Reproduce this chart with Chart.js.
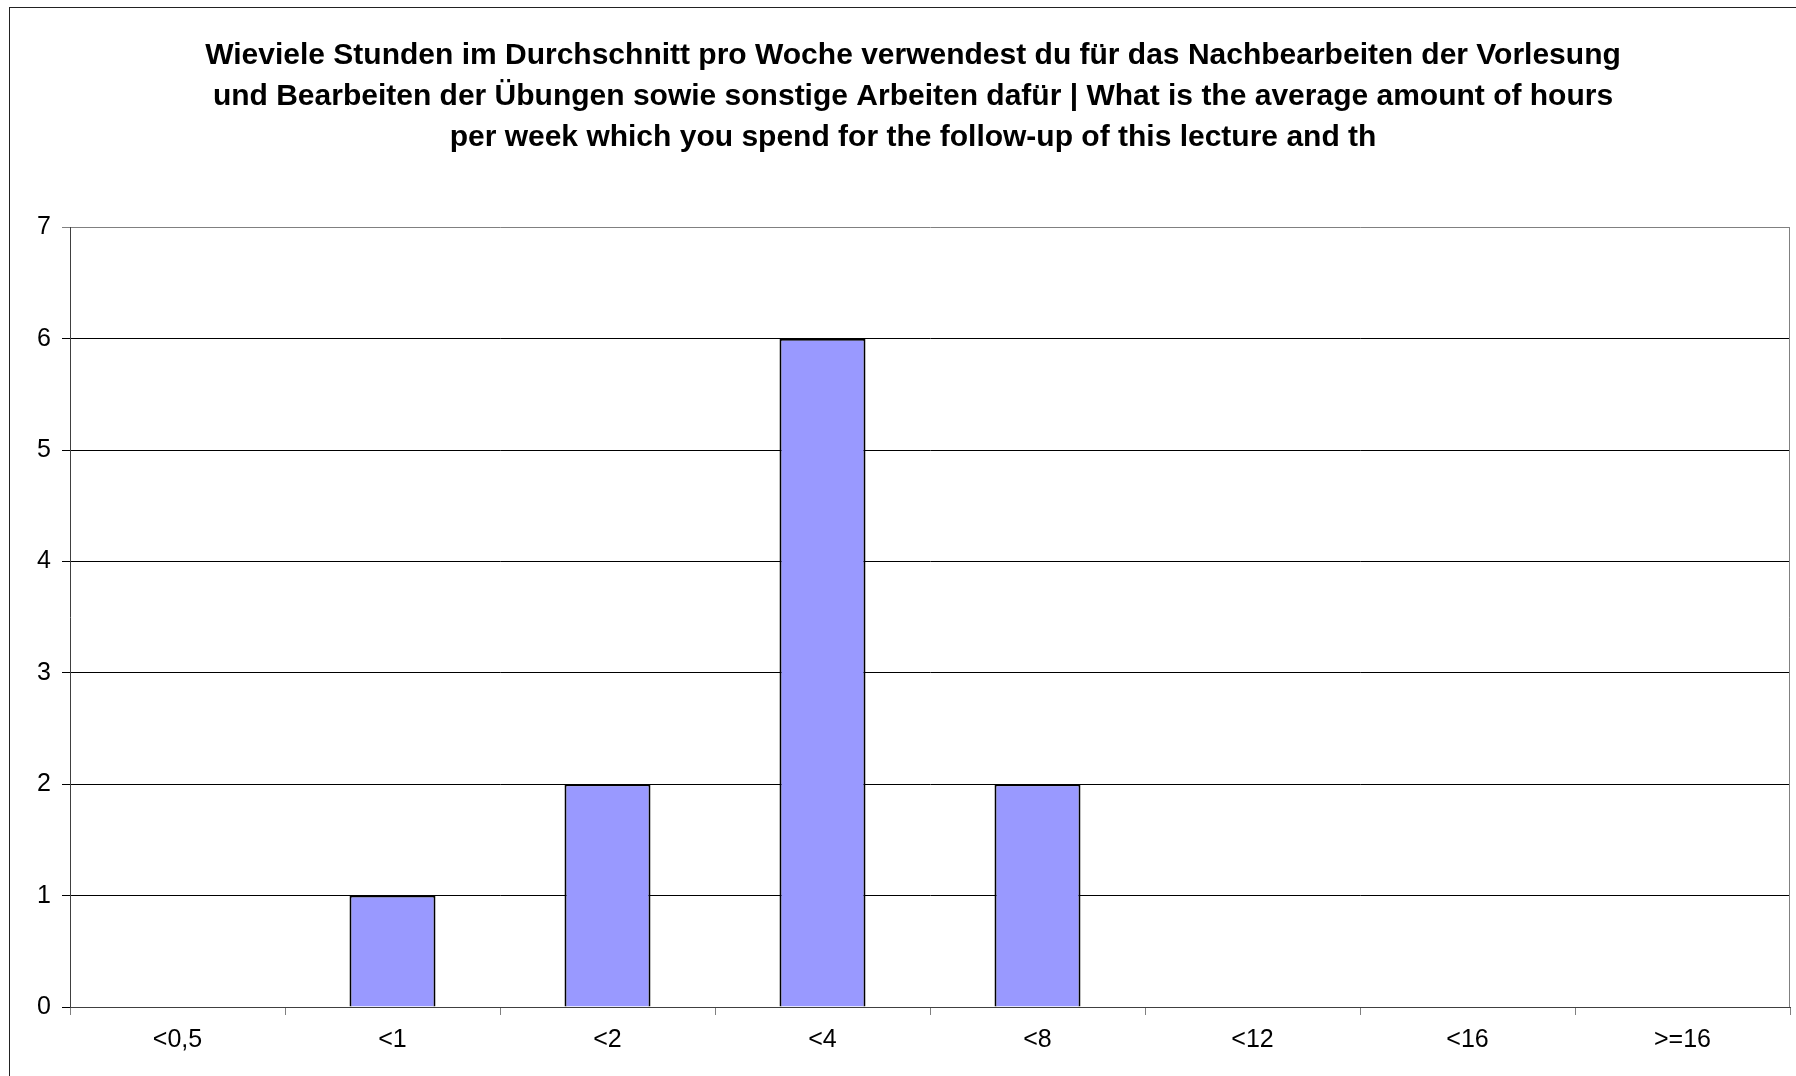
<!DOCTYPE html>
<html>
<head>
<meta charset="utf-8">
<script src="https://cdn.jsdelivr.net/npm/chart.js@4/dist/chart.umd.min.js"></script>
<style>
  html, body { margin: 0; padding: 0; background: #fff; }
  #wrap { width: 1796px; height: 1076px; }
</style>
</head>
<body>
<div id="wrap"><canvas id="chart" width="1796" height="1076"></canvas></div>
<script>
// data
const titleLines = [
    'Wieviele Stunden im Durchschnitt pro Woche verwendest du für das Nachbearbeiten der Vorlesung',
    'und Bearbeiten der Übungen sowie sonstige Arbeiten dafür | What is the average amount of hours',
    'per week which you spend for the follow-up of this lecture and th'
];
const categories = ['<0,5', '<1', '<2', '<4', '<8', '<12', '<16', '>=16'];
const answers = [0, 1, 2, 6, 2, 0, 0, 0];
const yMin = 0;
const yMax = 7;

const FONT = '"Liberation Sans", Arial, sans-serif';

// white page, outer frame and grey plot border on the right
const frame = {
    id: 'frame',
    beforeDraw(chart) {
        const c = chart.ctx;
        c.save();
        c.fillStyle = '#fff';
        c.fillRect(0, 0, chart.width, chart.height);
        c.strokeStyle = '#222';
        c.lineWidth = 1;
        c.strokeRect(9.5, 7.5, chart.width + 20, chart.height + 20);
        c.restore();
    },
    afterDraw(chart) {
        const a = chart.chartArea;
        const c = chart.ctx;
        c.save();
        c.strokeStyle = '#808080';
        c.lineWidth = 1;
        c.beginPath();
        c.moveTo(Math.round(a.right) - 0.5, a.top);
        c.lineTo(Math.round(a.right) - 0.5, a.bottom);
        c.stroke();
        c.restore();
    }
};

new Chart(document.getElementById('chart'), {
    type: 'bar',
    data: {
        labels: categories,
        datasets: [{
            data: answers,
            backgroundColor: '#9999FF',
            borderColor: '#000',
            borderWidth: 2,
            barPercentage: 0.4,
            categoryPercentage: 1
        }]
    },
    options: {
        responsive: false,
        animation: false,
        // left padding pushes the title centre a bit to the right, like the original
        layout: { padding: { left: 36, right: 6, top: 0, bottom: 0 } },
        plugins: {
            legend: { display: false },
            tooltip: { enabled: false },
            title: {
                display: true,
                text: titleLines,
                color: '#000',
                font: { family: FONT, size: 30, weight: 'bold', lineHeight: 1.37 },
                padding: { top: 35, bottom: 69 }
            }
        },
        scales: {
            x: {
                grid: {
                    display: true,
                    drawOnChartArea: false,
                    drawTicks: true,
                    tickLength: 8,
                    color: '#808080',
                    offset: true
                },
                border: { color: '#404040', width: 1 },
                ticks: {
                    color: '#000',
                    font: { family: FONT, size: 25 },
                    padding: 10,
                    maxRotation: 0
                },
                afterFit(scale) { scale.height = 69; }
            },
            y: {
                min: yMin,
                max: yMax,
                grid: {
                    color: ctx => (ctx.tick && ctx.tick.value === yMax) ? '#808080' : '#000',
                    lineWidth: 1,
                    tickLength: 8,
                    drawTicks: true
                },
                border: { color: '#404040', width: 1 },
                ticks: {
                    stepSize: 1,
                    color: '#000',
                    font: { family: FONT, size: 25 },
                    padding: 11
                },
                afterFit(scale) { scale.width = 34; }
            }
        }
    },
    plugins: [frame]
});
</script>
</body>
</html>
